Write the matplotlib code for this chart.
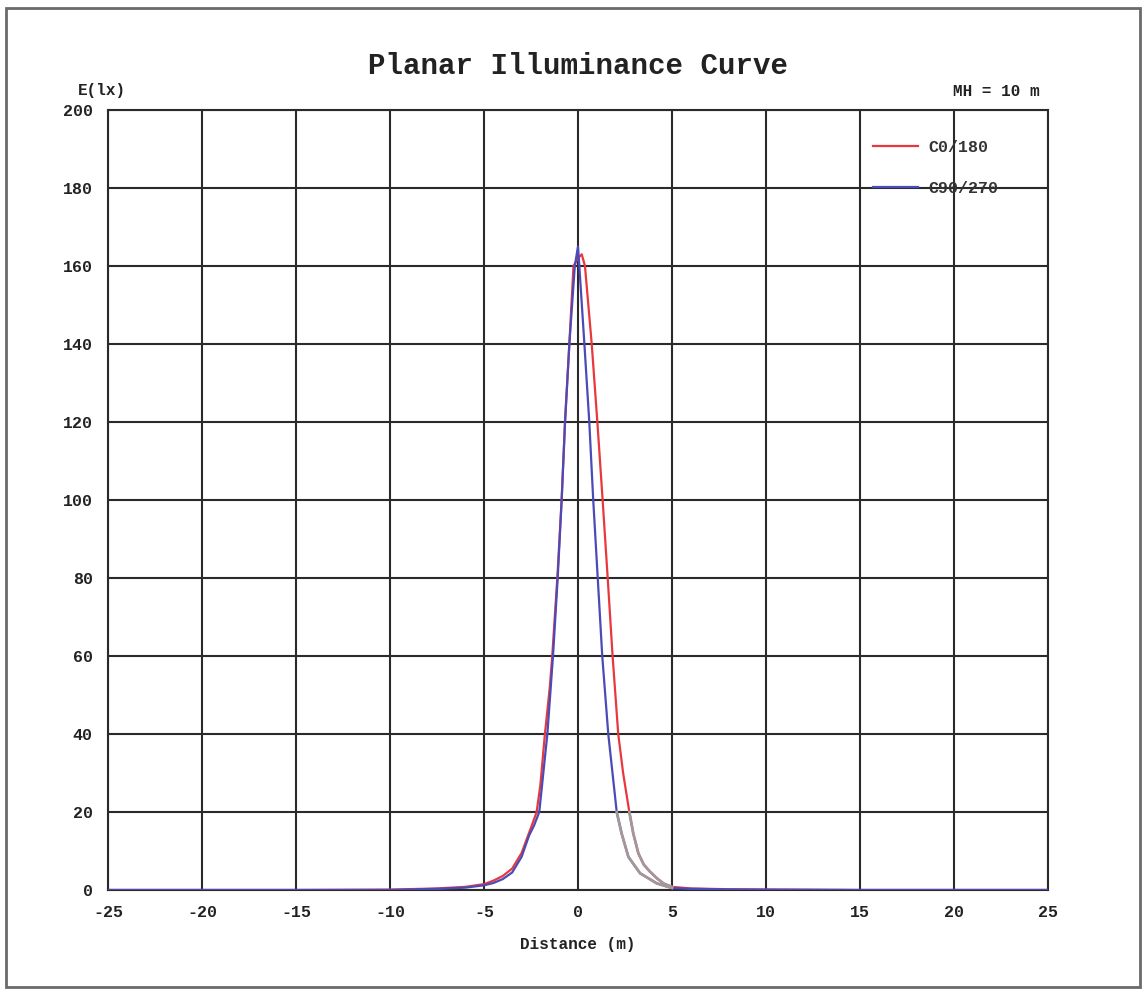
import matplotlib
matplotlib.use("Agg")
import matplotlib.pyplot as plt
from matplotlib.patches import Rectangle
import numpy as np

# ---- data ----
x_c0 = [-25, -20, -15, -10, -7.5, -6, -5, -4.5, -4, -3.5, -3, -2.5, -2.2, -2.0,
        -1.76, -1.5, -1.37, -1.1, -0.87, -0.69, -0.46, -0.24, 0.0, 0.2, 0.37,
        0.73, 1.03, 1.31, 1.58, 1.84, 2.14, 2.4, 2.73, 2.94, 3.21, 3.5, 3.83,
        4.2, 4.54, 5.0, 6, 8, 10, 15, 20, 25]
y_c0 = [0, 0, 0, 0.1, 0.4, 0.8, 1.5, 2.4, 3.6, 5.5, 9.5, 16, 20, 27,
        40, 52, 60, 80, 100, 120, 140, 160, 162, 163, 160,
        140, 120, 100, 80, 60, 40, 30, 20, 14.5, 9.4, 6.5, 4.7,
        3.0, 1.7, 0.8, 0.4, 0.2, 0.1, 0, 0, 0]

x_c90 = [-25, -20, -15, -10, -7.5, -6, -5, -4.5, -4, -3.5, -3, -2.6, -2.34, -2.06,
         -1.63, -1.33, -1.08, -0.87, -0.69, -0.46, -0.17, 0.0, 0.07, 0.34, 0.6,
         0.81, 1.05, 1.29, 1.61, 2.06, 2.32, 2.68, 3.3, 4.19, 5.0, 6, 8, 10,
         15, 20, 25]
y_c90 = [0, 0, 0, 0, 0.3, 0.6, 1.2, 1.8, 2.8, 4.5, 8.5, 14, 16.5, 20,
         40, 60, 80, 100, 120, 140, 160, 165, 160, 140, 120,
         100, 80, 60, 40, 20, 14.5, 8.5, 4.3, 1.7, 0.5, 0.3, 0.15, 0.1,
         0, 0, 0]

series_labels = ["C0/180", "C90/270"]
x_ticks = [-25, -20, -15, -10, -5, 0, 5, 10, 15, 20, 25]
y_ticks = [0, 20, 40, 60, 80, 100, 120, 140, 160, 180, 200]
title = "Planar Illuminance Curve"
x_label = "Distance (m)"
y_label = "E(lx)"
note = "MH = 10 m"

# ---- styling ----
FONT = ["Liberation Mono", "DejaVu Sans Mono"]
RED = "#e8383d"
BLUE = "#4a4ab8"
GREY = "#a4969a"
GRID = "#2a2a2a"

W, H = 1143, 989
fig = plt.figure(figsize=(W / 100, H / 100), dpi=100)
ax = fig.add_axes([108 / W, 1 - 890 / H, (1048 - 108) / W, (890 - 110) / H])

xr, yr = np.array(x_c0), np.array(y_c0)
xb, yb = np.array(x_c90), np.array(y_c90)

ax.plot(xr, yr, color=RED, lw=1.6, label=series_labels[0], zorder=3,
        solid_joinstyle="round")
ax.plot(xb, yb, color=BLUE, lw=1.6, label=series_labels[1], zorder=3,
        solid_joinstyle="round")
# right-hand tails appear grey in the reference
mr = (xr >= 2.73) & (xr <= 5.0)
mb = (xb >= 2.06) & (xb <= 5.0)
ax.plot(xr[mr], yr[mr], color=GREY, lw=2.0, zorder=4, solid_joinstyle="round")
ax.plot(xb[mb], yb[mb], color=GREY, lw=2.0, zorder=4, solid_joinstyle="round")

ax.set_xlim(-25, 25)
ax.set_ylim(0, 200)
ax.set_xticks(x_ticks)
ax.set_yticks(y_ticks)
ax.set_xticklabels([str(v) for v in x_ticks])
ax.set_yticklabels([str(v) for v in y_ticks])
ax.grid(True, color=GRID, lw=1.5, zorder=1)
ax.set_axisbelow(True)
for s in ax.spines.values():
    s.set_color(GRID)
    s.set_linewidth(1.5)
ax.tick_params(length=0, pad=11, labelsize=12)
for lab in ax.get_xticklabels() + ax.get_yticklabels():
    lab.set_fontfamily(FONT)
    lab.set_fontweight("bold")
    lab.set_color("#222222")

ax.set_xlabel(x_label, family=FONT, fontweight="bold", fontsize=11.5,
              labelpad=12, color="#222222")

fig.text(578 / W, 1 - 66 / H, title, family=FONT, fontweight="bold",
         fontsize=21, ha="center", va="center", color="#222222")
fig.text(78 / W, 1 - 91 / H, y_label, family=FONT, fontweight="bold",
         fontsize=11.5, ha="left", va="center", color="#222222")
fig.text(1040 / W, 1 - 91 / H, note, family=FONT, fontweight="bold",
         fontsize=11.5, ha="right", va="center", color="#222222")

leg = ax.legend(loc="upper left", bbox_to_anchor=(873 / W, 1 - 140 / H),
                bbox_transform=fig.transFigure, frameon=False,
                borderpad=0, borderaxespad=0, handlelength=2.7,
                handletextpad=0.6, labelspacing=1.55,
                prop={"family": FONT, "weight": "bold", "size": 12})
for t in leg.get_texts():
    t.set_color("#333333")

# outer frame
fig.patches.append(Rectangle((6 / W, 1 - 987 / H), (1140 - 6) / W, (987 - 8) / H,
                             transform=fig.transFigure, fill=False,
                             edgecolor="#6a6a6a", lw=2))

fig.savefig("out.png", dpi=100, facecolor="white")
